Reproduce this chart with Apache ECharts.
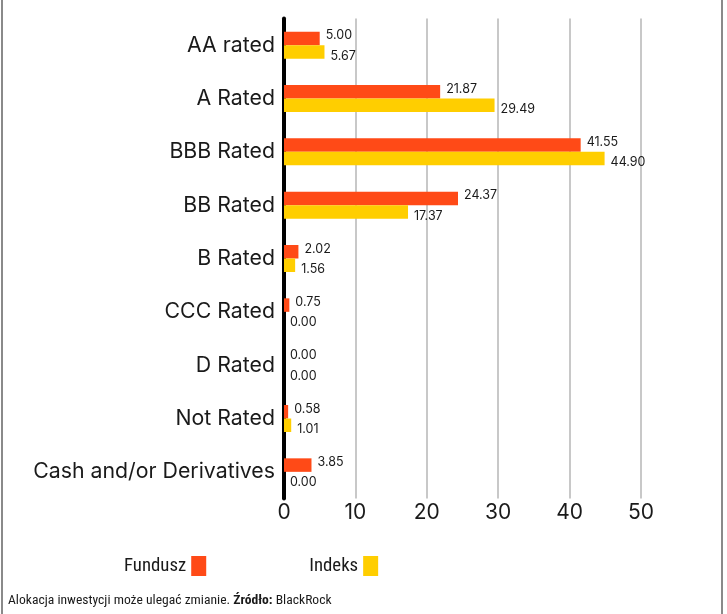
<!DOCTYPE html>
<html>
<head>
<meta charset="utf-8">
<script src="https://cdn.jsdelivr.net/npm/echarts@6/dist/echarts.min.js"></script>
<style>html,body{margin:0;padding:0;background:#fff}#c{width:727px;height:614px}</style>
</head>
<body>
<div id="c"></div>
<script>
const categories = ['AA rated','A Rated','BBB Rated','BB Rated','B Rated','CCC Rated','D Rated','Not Rated','Cash and/or Derivatives'];
const fundusz = [5.00, 21.87, 41.55, 24.37, 2.02, 0.75, 0.00, 0.58, 3.85];
const indeks = [5.67, 29.49, 44.90, 17.37, 1.56, 0.00, 0.00, 1.01, 0.00];
const seriesNames = ['Fundusz', 'Indeks'];
const xTicks = [0, 10, 20, 30, 40, 50];

const FONT = 'Inter';
const NARROW = '"Liberation Sans Narrow", "Roboto Condensed", Roboto';
const chart = echarts.init(document.getElementById('c'), null, {renderer: 'canvas'});
chart.setOption({
  animation: false,
  textStyle: {fontFamily: FONT},
  grid: {left: 284, right: 86, top: 18.5, bottom: 115.5, containLabel: false},
  legend: {
    data: seriesNames,
    left: 124, top: 556,
    padding: 0,
    align: 'right',
    icon: 'rect',
    itemWidth: 15, itemHeight: 20,
    itemGap: 103,
    textStyle: {fontSize: 18.8, color: '#1a1a1a', fontFamily: NARROW}
  },
  xAxis: {
    type: 'value', min: xTicks[0], max: xTicks[xTicks.length - 1], interval: 10,
    axisLine: {show: false}, axisTick: {show: false},
    splitLine: {show: true, lineStyle: {color: '#c8c8c8', width: 2}},
    axisLabel: {fontSize: 21, color: '#1a1a1a', margin: 4, fontFamily: FONT}
  },
  yAxis: {
    type: 'category', data: categories, inverse: true,
    axisLine: {show: true, onZero: false, lineStyle: {color: '#000', width: 4}},
    axisTick: {show: false},
    axisLabel: {fontSize: 21.3, color: '#1a1a1a', margin: 9, fontFamily: FONT}
  },
  series: [
    {
      name: seriesNames[0], type: 'bar', data: fundusz,
      barWidth: 13.5, barGap: '0%',
      itemStyle: {color: '#FF4A17'},
      label: {show: true, position: 'right', distance: 6, offset: [0, -3], fontSize: 12.5, color: '#1a1a1a',
        fontFamily: FONT, formatter: p => p.value.toFixed(2)}
    },
    {
      name: seriesNames[1], type: 'bar', data: indeks,
      barWidth: 13.5, barGap: '0%',
      itemStyle: {color: '#FFCE00'},
      label: {show: true, position: 'right', distance: 6, offset: [0, 4], fontSize: 12.5, color: '#1a1a1a',
        fontFamily: FONT, formatter: p => p.value.toFixed(2)}
    }
  ],
  graphic: [
    {type: 'rect', left: 1, top: 0, shape: {width: 2, height: 614}, style: {fill: '#8a8a8a'}},
    {type: 'rect', left: 721, top: 0, shape: {width: 2, height: 614}, style: {fill: '#8a8a8a'}},
    {type: 'text', left: 8, top: 594, style: {
      text: '{n|Alokacja inwestycji może ulegać zmianie. }{b|Źródło:}{n| BlackRock}',
      rich: {
        n: {fontSize: 13.6, fontFamily: NARROW, fill: '#1a1a1a', color: '#1a1a1a'},
        b: {fontSize: 13.6, fontFamily: NARROW, fontWeight: 'bold', fill: '#1a1a1a', color: '#1a1a1a'}
      }
    }}
  ]
});
</script>
</body>
</html>
